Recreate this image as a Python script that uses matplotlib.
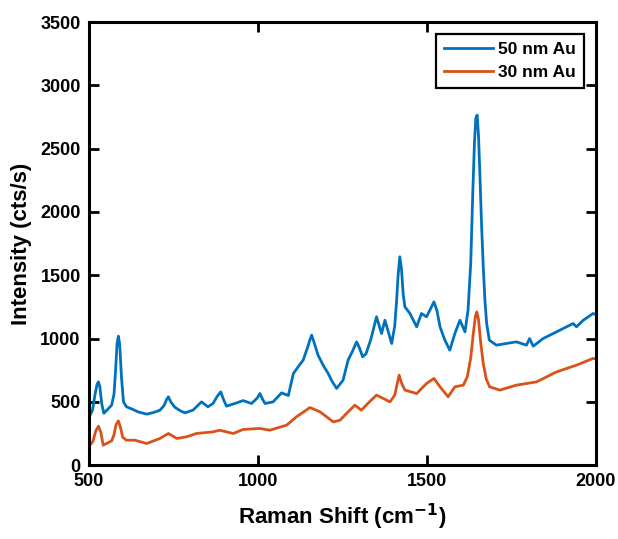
import matplotlib
matplotlib.use("Agg")
import matplotlib.pyplot as plt

plt.rcParams["font.family"] = ["Liberation Sans Narrow", "Liberation Sans", "DejaVu Sans"]
plt.rcParams["font.weight"] = "bold"

# 50 nm Au spectrum
shift_50 = [503, 510, 518, 524, 528, 532, 538, 544, 555, 567, 574, 579, 583, 587, 591, 596,
            602, 611, 630, 645, 671, 690, 710, 722, 730, 735, 742, 754, 770, 784, 808, 833,
            852, 867, 880, 890, 898, 907, 937, 956, 981, 998, 1006, 1014, 1021, 1045, 1070,
            1090, 1105, 1120, 1134, 1147, 1154, 1159, 1165, 1178, 1193, 1208, 1220, 1233,
            1252, 1267, 1280, 1292, 1300, 1310, 1320, 1335, 1351, 1366, 1376, 1396, 1405,
            1410, 1415, 1420, 1425, 1430, 1435, 1450, 1470, 1484, 1499, 1510, 1521, 1530,
            1539, 1553, 1568, 1583, 1598, 1613, 1622, 1630, 1636, 1641, 1645, 1649, 1653,
            1657, 1662, 1667, 1672, 1677, 1685, 1706, 1735, 1765, 1795, 1804, 1815, 1844,
            1884, 1904, 1933, 1943, 1963, 1992, 2000]
int_50 = [395, 430, 560, 640, 658, 620, 480, 410, 440, 474, 560, 760, 960, 1019, 950, 700,
          500, 461, 440, 421, 403, 415, 434, 470, 520, 540, 500, 458, 430, 413, 435, 500,
          461, 487, 545, 579, 520, 466, 492, 510, 487, 530, 566, 520, 487, 500, 571,
          550, 724, 780, 830, 930, 990, 1027, 980, 869, 790, 724, 660, 606,
          671, 830, 900, 974, 930, 856, 880, 1000, 1172, 1040, 1145, 961, 1100,
          1280, 1500, 1646, 1550, 1350, 1251, 1198, 1093, 1198, 1172, 1230, 1290, 1220,
          1093, 990, 908, 1040, 1145, 1053, 1225, 1600, 2150, 2550, 2740, 2765, 2600,
          2300, 1900, 1567, 1300, 1120, 988, 948, 961, 974, 948, 1000, 940, 1000,
          1053, 1080, 1119, 1093, 1145, 1198, 1190]

# 30 nm Au spectrum
shift_30 = [503, 512, 520, 528, 535, 542, 555, 567, 574, 580, 587, 593, 600, 611, 636, 671,
            710, 735, 760, 789, 818, 867, 887, 927, 956, 1006, 1035, 1085, 1114, 1135, 1154,
            1184, 1223, 1243, 1262, 1287, 1306, 1330, 1351, 1371, 1391, 1405, 1412, 1418,
            1425, 1435, 1470, 1499, 1521, 1539, 1563, 1583, 1608, 1620, 1630, 1638, 1644,
            1648, 1653, 1659, 1667, 1676, 1686, 1716, 1765, 1825, 1884, 1943, 1992, 2000]
int_30 = [158, 190, 270, 308, 260, 158, 175, 192, 240, 320, 350, 300, 220, 197, 197, 171,
          211, 250, 211, 224, 250, 263, 276, 250, 282, 290, 276, 316, 382, 420, 455,
          421, 342, 355, 408, 474, 434, 500, 553, 527, 500, 553, 640, 711,
          650, 593, 566, 645, 685, 619, 540, 619, 632, 700, 850, 1050, 1180,
          1211, 1150, 980, 803, 680, 619, 593, 632, 658, 737, 790, 843, 840]

x_ticks = [500, 1000, 1500, 2000]
y_ticks = [0, 500, 1000, 1500, 2000, 2500, 3000, 3500]

fig = plt.figure(figsize=(6.18, 5.39), dpi=100)
ax = fig.add_axes([0.144, 0.137, 0.82, 0.822])

ax.plot(shift_50, int_50, color="#0072BD", linewidth=2.0, label="50 nm Au")
ax.plot(shift_30, int_30, color="#D95319", linewidth=2.0, label="30 nm Au")

ax.set_xlim(500, 2000)
ax.set_ylim(0, 3500)
ax.set_xticks(x_ticks)
ax.set_yticks(y_ticks)
ax.tick_params(direction="in", length=7, width=2.0, top=True, right=True,
               labelsize=13, pad=6)
for s in ax.spines.values():
    s.set_linewidth(2.2)

ax.set_xlabel("Raman Shift (cm$^{\\mathbf{-1}}$)", fontsize=16, fontweight="bold", labelpad=8)
ax.set_ylabel("Intensity (cts/s)", fontsize=16, fontweight="bold", labelpad=6)

leg = ax.legend(loc="upper right", fontsize=12.5, frameon=True, fancybox=False,
                edgecolor="black", handlelength=2.8, handletextpad=0.3,
                borderaxespad=0.7, borderpad=0.45, labelspacing=0.45)
leg.get_frame().set_linewidth(1.6)
leg.get_frame().set_alpha(1)

fig.savefig("out.png", dpi=100)
